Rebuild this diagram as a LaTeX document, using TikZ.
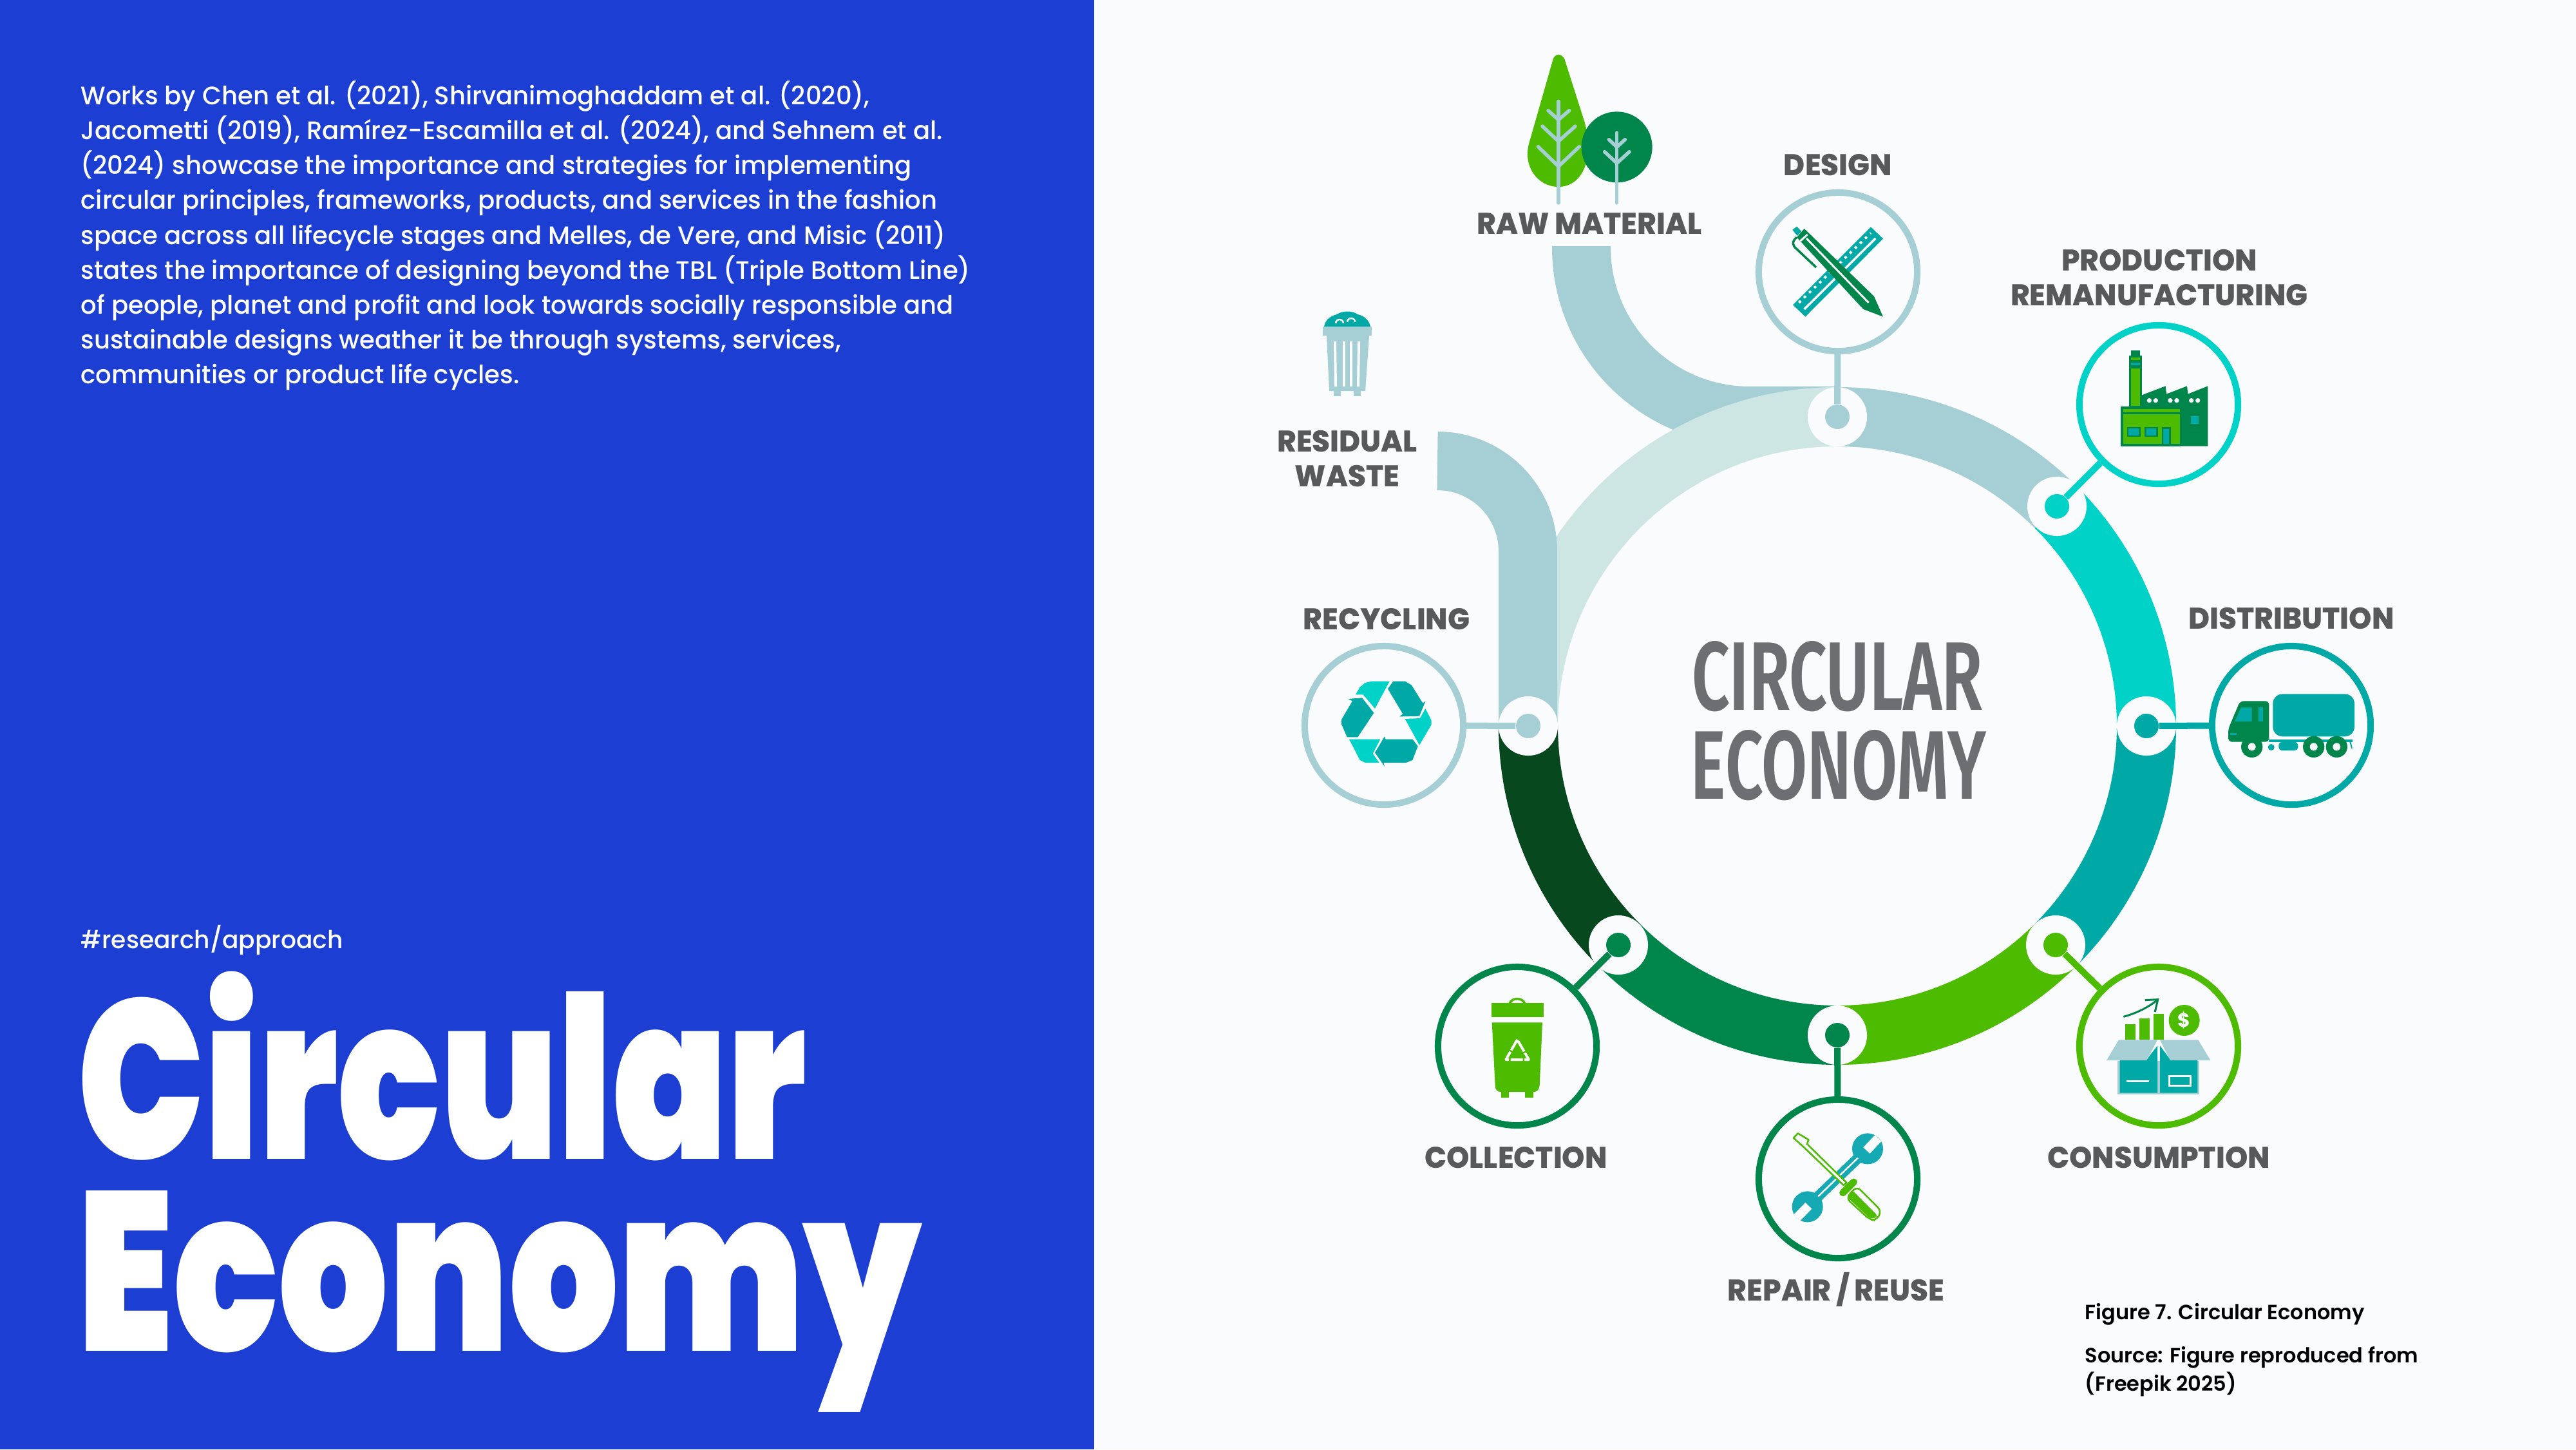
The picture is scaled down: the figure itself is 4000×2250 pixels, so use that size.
\documentclass[tikz,border=0pt]{standalone}
\usepackage{fontspec}
\setmainfont{Poppins}
\newfontfamily\circfont[FakeStretch=0.745]{Poppins Black}
\newfontfamily\econfont[FakeStretch=0.762]{Poppins Black}
\newfontfamily\ringfont[FakeStretch=0.68]{Fira Sans SemiBold}
\newfontfamily\bodyfont[FakeStretch=0.98]{Poppins Medium}
\newfontfamily\capfont{Poppins SemiBold}
\newfontfamily\labelfont[FakeStretch=0.97]{Poppins ExtraBold}
\usetikzlibrary{arrows.meta}
\definecolor{paper}{HTML}{F9FBFD}
\definecolor{panelblue}{HTML}{1D3ED2}
\definecolor{ringlight}{HTML}{A5CFD4}
\definecolor{ringpale}{HTML}{CDE6E4}
\definecolor{ringcyan}{HTML}{00D2C8}
\definecolor{ringteal}{HTML}{00A9A5}
\definecolor{ringlime}{HTML}{4DBB00}
\definecolor{ringgreen}{HTML}{00854A}
\definecolor{ringdark}{HTML}{07481E}
\definecolor{labelgray}{HTML}{58595B}
\definecolor{titlegray}{HTML}{6D6E71}
\definecolor{wrenchblue}{HTML}{14A9B3}
\tikzset{
  ringarc/.style={line width=9.2mm},
  bandarc/.style={line width=9.1mm,color=ringlight},
  holenode/.style={circle,fill=paper,inner sep=0pt,minimum size=0.92cm},
  dotnode/.style={circle,inner sep=0pt,minimum size=0.38cm},
  stagecirc/.style={circle,draw,line width=1mm,inner sep=0pt,minimum size=2.46cm},
  leader/.style={line width=1mm},
  stagelabel/.style={inner sep=0pt,align=center,color=labelgray,text height=9.2pt,text depth=0pt,font=\labelfont\fontsize{13.2}{15.4}\selectfont},
  twig/.style={line width=0.55mm,color=ringlight,line cap=round}
}
\begin{document}
\begin{tikzpicture}[x=0.01cm,y=-0.01cm]
  \useasboundingbox (0,0) rectangle (4000,2250);
  \fill[paper] (0,0) rectangle (4000,2250);
  \fill[panelblue] (0,0) rectangle (1699,2250);

  \node[anchor=north west,inner sep=0pt,align=left,color=white,font=\bodyfont\fontsize{11.2}{15.4}\selectfont] (bodytext) at (125,125)
    {Works by Chen et al. (2021), Shirvanimoghaddam et al. (2020),\\
     Jacometti (2019), Ramírez-Escamilla et al. (2024), and Sehnem et al.\\
     (2024) showcase the importance and strategies for implementing\\
     circular principles, frameworks, products, and services in the fashion\\
     space across all lifecycle stages and Melles, de Vere, and Misic (2011)\\
     states the importance of designing beyond the TBL (Triple Bottom Line)\\
     of people, planet and profit and look towards socially responsible and\\
     sustainable designs weather it be through systems, services,\\
     communities or product life cycles.};
  \node[anchor=base west,inner sep=0pt,color=white,font=\bodyfont\fontsize{10.9}{14}\selectfont] (hashtag) at (125,1472) {\#research/approach};
  \node[anchor=base west,inner sep=0pt,align=left,color=white,font=\fontsize{100}{84.5}\selectfont] (titleword) at (120,2097) {\circfont Circular\\\econfont Economy};

  \draw[bandarc] (2455.5,382) -- (2455.5,384) arc (180:90:261.5) -- (2853,645.5);
  \draw[ringarc,ringlight] (2853,1127) ++(-90:480) arc (-90:-45:480);
  \draw[ringarc,ringcyan] (2853,1127) ++(-45:480) arc (-45:0:480);
  \draw[ringarc,ringteal] (2853,1127) ++(0:480) arc (0:45:480);
  \draw[ringarc,ringlime] (2853,1127) ++(45:480) arc (45:90:480);
  \draw[ringarc,ringgreen] (2853,1127) ++(90:480) arc (90:135:480);
  \draw[ringarc,ringdark] (2853,1127) ++(135:480) arc (135:180:480);
  \draw[ringarc,ringpale] (2853,1127) ++(180:480) arc (180:270:480);
  \draw[bandarc] (2232,715.5) arc (-90:0:140.5) -- (2372.5,1127);

  \node[holenode] (designhole) at (2853,647) {};
  \node[holenode] (prodhole) at (3194,786) {};
  \node[holenode] (disthole) at (3333,1127) {};
  \node[holenode] (conshole) at (3192,1467) {};
  \node[holenode] (repairhole) at (2853,1607) {};
  \node[holenode] (collhole) at (2513,1467) {};
  \node[holenode] (recyhole) at (2373,1127) {};

  \node[dotnode,fill=ringlight] (designdot) at (2853,647) {};
  \node[dotnode,fill=ringcyan] (proddot) at (3194,786) {};
  \node[dotnode,fill=ringteal] (distdot) at (3333,1127) {};
  \node[dotnode,fill=ringlime] (consdot) at (3192,1467) {};
  \node[dotnode,fill=ringgreen] (repairdot) at (2853,1607) {};
  \node[dotnode,fill=ringgreen] (colldot) at (2513,1467) {};
  \node[dotnode,fill=ringlight] (recydot) at (2373,1127) {};

  \node[stagecirc,draw=ringlight] (designcirc) at (2854,422) {};
  \node[stagecirc,draw=ringcyan] (prodcirc) at (3352,628) {};
  \node[stagecirc,draw=ringteal] (distcirc) at (3558,1126) {};
  \node[stagecirc,draw=ringlime] (conscirc) at (3352,1624) {};
  \node[stagecirc,draw=ringgreen] (repaircirc) at (2854,1830) {};
  \node[stagecirc,draw=ringgreen] (collcirc) at (2356,1624) {};
  \node[stagecirc,draw=ringlight] (recycirc) at (2149,1126) {};

  \draw[leader,ringlight] (designdot) -- (designcirc);
  \draw[leader,ringcyan] (proddot) -- (prodcirc);
  \draw[leader,ringteal] (distdot) -- (distcirc);
  \draw[leader,ringlime] (consdot) -- (conscirc);
  \draw[leader,ringgreen] (repairdot) -- (repaircirc);
  \draw[leader,ringgreen] (colldot) -- (collcirc);
  \draw[leader,ringlight] (recydot) -- (recycirc);

  \node[stagelabel] (rawlabel) at (2468,347) {RAW MATERIAL};
  \node[stagelabel] (designlabel) at (2854,256) {DESIGN};
  \node[stagelabel] (prodlabel) at (3353,458) {PRODUCTION\\REMANUFACTURING};
  \node[stagelabel] (distlabel) at (3558,960) {DISTRIBUTION};
  \node[stagelabel] (conslabel) at (3352,1797) {CONSUMPTION};
  \node[stagelabel] (repairlabel) at (2851,2003) {REPAIR / REUSE};
  \node[stagelabel] (colllabel) at (2354,1797) {COLLECTION};
  \node[stagelabel] (recylabel) at (2153,961) {RECYCLING};
  \node[stagelabel] (wastelabel) at (2092,739) {RESIDUAL\\WASTE};

  \node[inner sep=0pt,color=titlegray,text height=30pt,text depth=0pt,font=\ringfont\fontsize{43}{43}\selectfont] (ringword1) at (2853,1050) {CIRCULAR};
  \node[inner sep=0pt,color=titlegray,text height=30pt,text depth=0pt,font=\ringfont\fontsize{43}{43}\selectfont] (ringword2) at (2855,1188) {ECONOMY};

  \node[anchor=base west,inner sep=0pt,font=\capfont\fontsize{9.1}{12}\selectfont] (figcap) at (3237,2048) {Figure 7. Circular Economy};
  \node[anchor=north west,inner sep=0pt,align=left,font=\capfont\fontsize{9.1}{12.4}\selectfont] (figsource) at (3237,2090) {Source: Figure reproduced from\\(Freepik 2025)};

  % raw material trees
  \begin{scope}[shift={(2300,60)},scale=0.3333]
    \fill[ringlime] (335,95) .. controls (345,68) and (375,68) .. (388,95) -- (482,390) .. controls (530,560) and (470,690) .. (360,690) .. controls (260,690) and (190,590) .. (225,480) -- cycle;
    \fill[ringgreen] (632,505) circle (165);
    \draw[twig] (360,292) -- (360,765); \draw[twig] (312,335) -- (360,378) -- (410,335);
    \draw[twig] (285,408) -- (360,478) -- (438,408); \draw[twig] (265,503) -- (360,595) -- (457,503);
    \draw[twig] (632,438) -- (632,765); \draw[twig] (595,470) -- (632,505) -- (670,470);
    \draw[twig] (575,527) -- (632,580) -- (690,527);
  \end{scope}

  % residual waste bin
  \fill[ringteal] (2056,507) .. controls (2058,495) and (2068,490) .. (2076,488) .. controls (2085,482) and (2100,482) .. (2108,488) .. controls (2118,490) and (2126,497) .. (2128,507) -- cycle;
  \fill[ringlight] (2054,507) rectangle (2130,521);
  \fill[ringlight] (2060,521) -- (2126,521) -- (2120,607) -- (2064,607) -- cycle;
  \fill[ringlight] (2071,607) rectangle (2082,615); \fill[ringlight] (2102,607) rectangle (2113,615);
  \draw[line width=0.4mm,paper] (2073,530) -- (2074,600); \draw[line width=0.4mm,paper] (2087,530) -- (2087,600);
  \draw[line width=0.4mm,paper] (2098,530) -- (2098,600); \draw[line width=0.4mm,paper] (2110,530) -- (2109,600);
  \draw[line width=0.25mm,paper] (2074,502) arc (180:360:6); \draw[line width=0.25mm,paper] (2092,500) arc (180:360:6);

  % design ruler and pen
  \begin{scope}[shift={(2650,250)},scale=0.3333]
    \fill[ringteal] (765,307) -- (822,362) -- (460,725) -- (402,670) -- cycle;
    \draw[line width=0.35mm,paper] (455,690) -- (787,360);
    \draw[line width=0.4mm,paper,dash pattern=on 0.4mm off 0.7mm] (430,660) -- (765,335);
    \fill[ringteal] (400,320) -- (420,305) -- (442,328) -- (422,348) -- cycle;
    \fill[ringgreen] (455,315) -- (780,630) -- (822,725) -- (730,690) -- (420,355) -- cycle;
    \draw[line width=0.35mm,ringgreen] (420,355) .. controls (395,375) and (400,395) .. (420,410) -- (510,495);
    \draw[line width=0.3mm,paper] (465,360) -- (755,660); \draw[line width=0.3mm,paper] (437,372) -- (470,342);
  \end{scope}

  % production factory
  \begin{scope}[shift={(3180,480)},scale=0.3333]
    \fill[ringgreen] (438,400) -- (548,358) -- (552,395) -- (648,358) -- (652,395) -- (745,358) -- (745,638) -- (618,638) -- (618,455) -- (438,455) -- cycle;
    \fill[paper] (472,425) circle (11); \fill[paper] (502,425) circle (11); \fill[paper] (570,425) circle (11);
    \fill[paper] (600,425) circle (11); \fill[paper] (668,425) circle (11); \fill[paper] (698,425) circle (11);
    \fill[ringteal] (667,497) rectangle (703,533);
    \fill[ringgreen] (388,192) rectangle (428,215); \fill[ringgreen] (378,215) rectangle (438,455);
    \fill[ringlime] (388,225) rectangle (428,238); \fill[ringteal] (388,248) rectangle (428,262); \fill[ringlime] (388,275) rectangle (428,450);
    \fill[ringgreen] (340,452) rectangle (618,638);
    \fill[ringlime] (352,465) rectangle (615,480); \fill[ringlime] (352,490) rectangle (615,628);
    \fill[ringgreen] (368,548) rectangle (432,595); \fill[ringteal] (376,556) rectangle (424,587);
    \fill[ringgreen] (450,548) rectangle (512,595); \fill[ringteal] (458,556) rectangle (504,587);
    \fill[ringgreen] (530,550) rectangle (572,628); \fill[ringteal] (537,558) rectangle (565,628);
  \end{scope}

  % distribution truck
  \begin{scope}[shift={(3420,980)},scale=0.3333]
    \fill[ringteal,rounded corners=1.5mm] (328,292) rectangle (708,490);
    \draw[line width=0.4mm,ringteal] (310,510) -- (700,510);
    \fill[ringteal,rounded corners=0.5mm] (355,515) rectangle (445,555);
    \fill[ringteal] (320,540) circle (15);
    \draw[line width=0.2mm,ringteal] (688,515) -- (696,545);
    \fill[ringgreen,rounded corners=0.6mm] (175,325) -- (310,325) -- (310,515) -- (120,515) -- (120,455) -- cycle;
    \fill[ringteal] (180,355) -- (230,355) -- (230,420) -- (150,420) -- cycle;
    \fill[ringteal] (262,355) rectangle (282,420);
    \draw[line width=0.25mm,ringteal] (130,478) -- (160,478);
    \fill[ringgreen] (230,538) circle (50); \fill[paper] (230,538) circle (18);
    \fill[ringgreen] (518,538) circle (50); \fill[paper] (518,538) circle (18);
    \fill[ringgreen] (625,538) circle (50); \fill[paper] (625,538) circle (18);
  \end{scope}

  % consumption box
  \begin{scope}[shift={(3200,1480)},scale=0.3333]
    \fill[ringlime] (300,330) rectangle (348,402); \fill[ringlime] (366,303) rectangle (414,402); \fill[ringlime] (432,282) rectangle (480,402);
    \draw[line width=0.3mm,ringgreen,-{Straight Barb[length=1.6mm,width=2.4mm]}] (292,295) .. controls (350,280) and (410,250) .. (458,210);
    \node[circle,fill=ringlime,inner sep=0pt,minimum size=0.48cm,text=paper,font=\fontsize{8.5}{8.5}\selectfont\bfseries] (coin) at (575,312) {\$};
    \fill[ringlight] (265,500) rectangle (645,658);
    \fill[ringteal] (275,495) -- (400,495) -- (450,430) -- (450,650) -- (275,650) -- cycle;
    \fill[ringteal] (462,430) -- (510,495) -- (637,495) -- (637,650) -- (462,650) -- cycle;
    \fill[ringlight] (270,403) -- (450,403) -- (400,498) -- (213,498) -- cycle;
    \fill[ringlight] (462,403) -- (640,403) -- (697,498) -- (510,498) -- cycle;
    \draw[line width=0.35mm,paper] (305,595) -- (412,595);
    \draw[line width=0.3mm,paper] (505,572) rectangle (605,615);
  \end{scope}

  % repair tools
  \begin{scope}[shift={(2700,1700)},scale=0.3333]
    \draw[line width=1.6mm,wrenchblue] (340,500) -- (580,270);
    \fill[wrenchblue] (600,250) circle (72); \fill[wrenchblue] (320,520) circle (72);
    \draw[line width=1.4mm,paper] (595,258) -- (650,200); \draw[line width=1.4mm,paper] (325,515) -- (270,572);
    \draw[line width=0.25mm,paper] (370,472) -- (555,292);
    \draw[line width=0.25mm,ringlime,fill=paper,line join=round] (275,178) -- (325,208) -- (318,228) -- (502,408) -- (488,420) -- (300,240) -- (255,200) -- cycle;
    \draw[line width=1.1mm,line cap=round,ringlime] (485,455) -- (535,405);
    \draw[line width=0.25mm,ringlime,fill=paper,rounded corners=0.8mm] (550,425) -- (665,540) -- (640,585) -- (610,580) -- (500,480) -- cycle;
    \fill[ringlime,rounded corners=0.5mm] (525,440) -- (650,565) -- (615,578) -- (505,475) -- cycle;
  \end{scope}

  % collection bin
  \begin{scope}[shift={(2200,1480)},scale=0.3333]
    \draw[line width=0.35mm,ringlime] (432,232) .. controls (445,205) and (490,205) .. (503,232);
    \fill[ringlime] (348,232) rectangle (590,298);
    \fill[ringlime] (350,322) -- (585,322) -- (572,615) .. controls (570,635) and (560,645) .. (545,645) -- (390,645) .. controls (375,645) and (365,635) .. (365,615) -- cycle;
    \fill[ringlime] (392,645) rectangle (430,672); \fill[ringlime] (505,645) rectangle (543,672);
    \draw[line width=0.4mm,paper,line join=round,dash pattern=on 1.9mm off 0.25mm] (468,402) -- (415,495) -- (522,495) -- cycle;
  \end{scope}

  % recycling arrows
  \begin{scope}[shift={(2000,980)},scale=0.3333]
    \fill[ringteal] (490,233) -- (545,233) -- (575,250) -- (628,335) -- (640,327) -- (612,395) -- (520,397) -- (535,385) -- (465,268) -- cycle;
    \fill[ringcyan] (545,408) -- (615,405) -- (640,360) -- (668,415) -- (668,435) -- (612,530) -- cycle;
    \fill[ringteal] (605,535) -- (580,503) -- (455,503) -- (450,490) -- (405,565) -- (450,630) -- (445,612) -- (550,612) -- (580,600) -- cycle;
    \fill[ringcyan] (285,503) -- (430,503) -- (395,570) -- (425,612) -- (360,612) -- (335,600) -- cycle;
    \fill[ringteal] (280,315) -- (345,310) -- (400,380) -- (325,493) -- (275,493) -- (248,430) -- (250,410) -- (300,325) -- cycle;
    \fill[ringcyan] (315,295) -- (350,295) -- (405,360) -- (473,233) -- (390,233) -- (360,240) -- (335,260) -- cycle;
  \end{scope}
\end{tikzpicture}
\end{document}
